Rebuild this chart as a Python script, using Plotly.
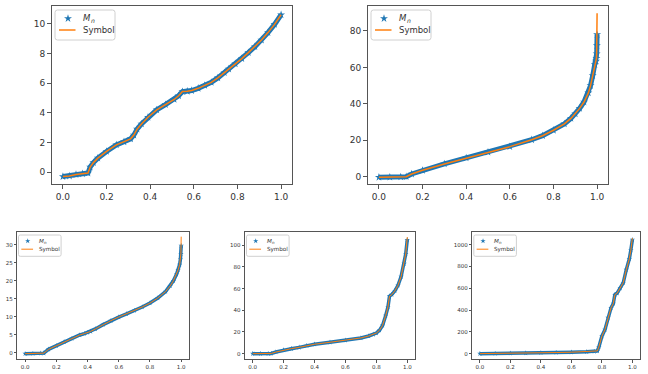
import plotly.graph_objects as go

# ---------------- data ----------------
x1 = [0, 0.03, 0.06, 0.09, 0.115, 0.125, 0.14, 0.16, 0.2, 0.245, 0.28, 0.31, 0.325, 0.34, 0.36,
      0.39, 0.43, 0.47, 0.51, 0.53, 0.548, 0.57, 0.59, 0.62, 0.65, 0.68, 0.71, 0.74, 0.76, 0.79,
      0.82, 0.85, 0.88, 0.91, 0.94, 0.97, 1.0]
mn1 = [-0.29, -0.25, -0.15, -0.1, -0.05, 0.35, 0.65, 0.95, 1.4, 1.84, 2.05, 2.25, 2.5, 2.9, 3.25,
       3.7, 4.2, 4.55, 4.9, 5.15, 5.43, 5.45, 5.5, 5.65, 5.85, 6.05, 6.35, 6.7, 6.95, 7.3,
       7.65, 8.05, 8.45, 8.9, 9.4, 9.95, 10.6]
sym1 = list(mn1)

x2 = [0, 0.05, 0.1, 0.125, 0.15, 0.2, 0.3, 0.4, 0.5, 0.6, 0.7, 0.75, 0.8, 0.85, 0.88, 0.9, 0.92,
      0.94, 0.96, 0.97, 0.98, 0.99, 0.995, 0.997, 0.998, 0.999, 1.0]
mn2 = [-0.3, -0.2, -0.1, 0, 1.5, 3.5, 7, 10.3, 13.5, 16.5, 20.3, 22.5, 25.5, 29, 32, 34.5, 37.5,
       41, 46, 50, 55.5, 61.5, 63.5, 65, 67.5, 72, 78]
sym2 = [-0.3, -0.2, -0.1, 0, 1.5, 3.5, 7, 10.3, 13.5, 16.5, 20.3, 22.5, 25.5, 29, 32, 34.5, 37.5,
        41, 46, 50, 55.5, 61.5, 63.5, 65, 67.5, 72, 89.7]

x3 = [0, 0.05, 0.1, 0.12, 0.15, 0.2, 0.25, 0.3, 0.35, 0.38, 0.4, 0.42, 0.45, 0.5, 0.55, 0.6, 0.65,
      0.7, 0.75, 0.8, 0.85, 0.9, 0.93, 0.95, 0.97, 0.98, 0.99, 0.995, 0.998, 1.0]
mn3 = [-0.3, -0.25, -0.2, -0.15, 0.9, 1.9, 3.0, 3.9, 4.9, 5.3, 5.6, 5.9, 6.6, 7.8, 8.9, 9.9, 10.8,
       11.7, 12.7, 13.8, 15.2, 17.0, 18.6, 20.0, 21.8, 23.0, 24.5, 26.0, 27.5, 29.8]
sym3 = [-0.3, -0.25, -0.2, -0.15, 0.9, 1.9, 3.0, 3.9, 4.9, 5.3, 5.6, 5.9, 6.6, 7.8, 8.9, 9.9, 10.8,
        11.7, 12.7, 13.8, 15.2, 17.0, 18.6, 20.0, 21.8, 23.0, 24.5, 26.0, 27.5, 32.3]

x4 = [0, 0.05, 0.1, 0.12, 0.15, 0.2, 0.25, 0.3, 0.35, 0.4, 0.5, 0.6, 0.7, 0.75, 0.78, 0.8, 0.82,
      0.84, 0.86, 0.875, 0.885, 0.9, 0.92, 0.94, 0.96, 0.98, 0.99, 1.0]
mn4 = [0, 0, 0, 0.2, 1.5, 3.4, 4.6, 5.8, 7.5, 8.7, 10.5, 12.3, 14.5, 16.3, 17.8, 19, 21.5,
       26, 35, 43, 53, 54.5, 58, 63, 71, 83, 92, 105]
sym4 = [0, 0, 0, 0.2, 1.5, 3.4, 4.6, 5.8, 7.5, 8.7, 10.5, 12.3, 14.5, 16.3, 17.8, 19, 21.5,
        26, 35, 43, 53, 54.5, 58, 63, 71, 83, 92, 107.5]

x5 = [0, 0.1, 0.2, 0.3, 0.4, 0.5, 0.6, 0.7, 0.75, 0.77, 0.78, 0.8, 0.82, 0.84, 0.86, 0.875,
      0.885, 0.9, 0.92, 0.94, 0.96, 0.98, 0.99, 1.0]
mn5 = [0, 1, 3, 5, 8, 10, 13, 17, 20, 25, 60, 160, 220, 330, 420, 460,
       540, 555, 600, 650, 770, 870, 950, 1045]
sym5 = [0, 1, 3, 5, 8, 10, 13, 17, 20, 25, 60, 160, 220, 330, 420, 460,
        540, 555, 600, 650, 770, 870, 950, 1060]

x_ticks = [0.0, 0.2, 0.4, 0.6, 0.8, 1.0]
x_ticklabels = ["0.0", "0.2", "0.4", "0.6", "0.8", "1.0"]
legend_main = "M"        # italic M ...
legend_sub = "n"         # ... with italic subscript n
legend_line = "Symbol"

BLUE = "#1f77b4"
ORANGE = "#ff7f0e"
W, H = 648, 374

panels = [
    dict(x=x1, mn=mn1, sym=sym1, px=(52, 292), py=(6, 184), yr=[-0.79, 11.19], dtick=2,
         font=9, ms=6, band=5, lw=1.5, tick=4, s=1.0, lf=8.5, leg=(55, 10)),
    dict(x=x2, mn=mn2, sym=sym2, px=(368, 608), py=(6, 184), yr=[-4.0, 93.7], dtick=20,
         font=9, ms=6, band=5, lw=1.5, tick=4, s=1.0, lf=8.5, leg=(371, 10)),
    dict(x=x3, mn=mn3, sym=sym3, px=(17.3, 189), py=(232, 358.7), yr=[-1.7, 33.6], dtick=5,
         font=5.5, ms=4, band=3.5, lw=1, tick=2.5, s=0.71, lf=5.6, leg=(18.5, 235)),
    dict(x=x4, mn=mn4, sym=sym4, px=(245, 415), py=(232, 359.3), yr=[-5.2, 112.2], dtick=20,
         font=5.5, ms=4, band=3.5, lw=1, tick=2.5, s=0.71, lf=5.6, leg=(246.5, 235)),
    dict(x=x5, mn=mn5, sym=sym5, px=(472.3, 640), py=(232, 359.3), yr=[-52, 1116], dtick=200,
         font=5.5, ms=4, band=3.5, lw=1, tick=2.5, s=0.71, lf=5.6, leg=(473.8, 235)),
]

fig = go.Figure()
layout = dict(width=W, height=H, margin=dict(l=0, r=0, t=0, b=0),
              paper_bgcolor="white", plot_bgcolor="rgba(0,0,0,0)", showlegend=False,
              font=dict(family="DejaVu Sans", color="#333"))
shapes, annotations = [], []

for i, p in enumerate(panels):
    n = "" if i == 0 else str(i + 1)
    xa, ya = "x" + n, "y" + n
    fig.add_trace(go.Scatter(x=p["x"], y=p["mn"], mode="lines",
                             line=dict(color=BLUE, width=p["band"]),
                             hoverinfo="skip", xaxis=xa, yaxis=ya))
    fig.add_trace(go.Scatter(x=p["x"], y=p["mn"], mode="markers",
                             marker=dict(symbol="star", size=p["ms"], color=BLUE, line=dict(width=0)),
                             name="M_n", xaxis=xa, yaxis=ya))
    fig.add_trace(go.Scatter(x=p["x"], y=p["sym"], mode="lines",
                             line=dict(color=ORANGE, width=p["lw"]),
                             name="Symbol", xaxis=xa, yaxis=ya))
    common = dict(showgrid=False, zeroline=False, showline=True, mirror=True,
                  linecolor="#555", linewidth=1, ticks="outside", ticklen=p["tick"],
                  tickcolor="#555", tickfont=dict(size=p["font"], color="#333"))
    layout["xaxis" + n] = dict(domain=[p["px"][0] / W, p["px"][1] / W], range=[-0.05, 1.05],
                               anchor=ya, tickvals=x_ticks, ticktext=x_ticklabels, **common)
    layout["yaxis" + n] = dict(domain=[1 - p["py"][1] / H, 1 - p["py"][0] / H], range=p["yr"],
                               anchor=xa, dtick=p["dtick"], tick0=0, **common)

# ---- hand-drawn legends; pixel-space overlay axis for the legend glyphs ----
layout["xaxis6"] = dict(domain=[0, 1], range=[0, W], visible=False, fixedrange=True, anchor="y6")
layout["yaxis6"] = dict(domain=[0, 1], range=[H, 0], visible=False, fixedrange=True, anchor="x6")


def px2paper(xp, yp):
    return xp / W, 1 - yp / H


def note(xp, yp, text, size, style="normal"):
    ax, ay = px2paper(xp, yp)
    return dict(x=ax, y=ay, xref="paper", yref="paper", text=text, showarrow=False,
                xanchor="left", yanchor="middle", borderpad=0,
                font=dict(family="DejaVu Sans", size=size, color="#333", style=style))


for p in panels:
    s = p["s"]
    bx, by = p["leg"]
    bw, bh, r = 60 * s, 30 * s, 2.5 * s
    x0, y0, x1_, y1_ = bx, by, bx + bw, by + bh
    path = (f"M {x0 + r},{y0} L {x1_ - r},{y0} Q {x1_},{y0} {x1_},{y0 + r} "
            f"L {x1_},{y1_ - r} Q {x1_},{y1_} {x1_ - r},{y1_} L {x0 + r},{y1_} "
            f"Q {x0},{y1_} {x0},{y1_ - r} L {x0},{y0 + r} Q {x0},{y0} {x0 + r},{y0} Z")
    shapes.append(dict(type="path", path=path, xref="x6", yref="y6",
                       line=dict(color="#d0d0d0", width=1), fillcolor="rgba(0,0,0,0)",
                       layer="above"))
    fig.add_trace(go.Scatter(x=[bx + 13 * s], y=[by + 8.5 * s], mode="markers",
                             marker=dict(symbol="star", size=p["ms"], color=BLUE, line=dict(width=0)),
                             hoverinfo="skip", xaxis="x6", yaxis="y6", cliponaxis=False))
    fig.add_trace(go.Scatter(x=[bx + 4 * s, bx + 20.5 * s], y=[by + 20 * s, by + 20 * s],
                             mode="lines", line=dict(color=ORANGE, width=p["lw"]),
                             hoverinfo="skip", xaxis="x6", yaxis="y6", cliponaxis=False))
    lf = p["lf"]
    annotations.append(note(bx + 27 * s, by + 8.0 * s, legend_main, lf, "italic"))
    annotations.append(note(bx + 27 * s + 0.95 * lf, by + 10.5 * s, legend_sub,
                            round(lf * 0.72, 1), "italic"))
    annotations.append(note(bx + 27 * s, by + 20 * s, legend_line, lf))

layout["shapes"] = shapes
layout["annotations"] = annotations
fig.update_layout(**layout)
fig.write_html("out.html")
